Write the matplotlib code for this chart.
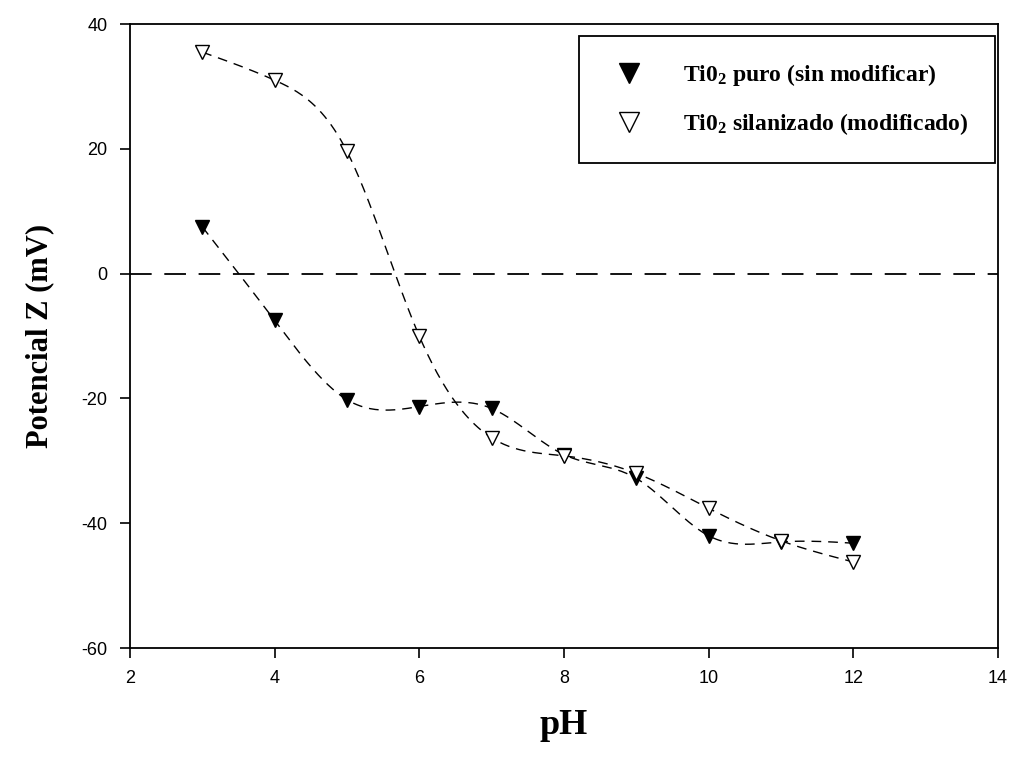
import matplotlib
matplotlib.use("Agg")
import matplotlib.pyplot as plt
import numpy as np
from matplotlib.lines import Line2D

plt.rcParams["axes.unicode_minus"] = False

# pH values and zeta potential (mV)
ph = [3, 4, 5, 6, 7, 8, 9, 10, 11, 12]
zeta_puro = [7.5, -7.5, -20.2, -21.3, -21.6, -29.0, -32.8, -42.0, -43.0, -43.2]
zeta_silanizado = [35.5, 31.0, 19.6, -10.0, -26.3, -29.2, -32.0, -37.6, -42.8, -46.2]

label_puro = "Ti0$_2$ puro (sin modificar)"
label_sil = "Ti0$_2$ silanizado (modificado)"


def natural_spline(x, y, n=400):
    """Natural cubic spline through the points, used only to draw the smooth curve."""
    x = np.asarray(x, float)
    y = np.asarray(y, float)
    k = len(x)
    h = np.diff(x)
    A = np.zeros((k, k))
    b = np.zeros(k)
    A[0, 0] = A[-1, -1] = 1
    for i in range(1, k - 1):
        A[i, i - 1] = h[i - 1]
        A[i, i] = 2 * (h[i - 1] + h[i])
        A[i, i + 1] = h[i]
        b[i] = 6 * ((y[i + 1] - y[i]) / h[i] - (y[i] - y[i - 1]) / h[i - 1])
    m = np.linalg.solve(A, b)
    xs = np.linspace(x[0], x[-1], n)
    idx = np.clip(np.searchsorted(x, xs) - 1, 0, k - 2)
    x0, x1 = x[idx], x[idx + 1]
    hh = x1 - x0
    t1 = x1 - xs
    t0 = xs - x0
    ys = (m[idx] * t1**3 + m[idx + 1] * t0**3) / (6 * hh) \
        + (y[idx] / hh - m[idx] * hh / 6) * t1 \
        + (y[idx + 1] / hh - m[idx + 1] * hh / 6) * t0
    return xs, ys


plt.rcParams["mathtext.fontset"] = "custom"
plt.rcParams["mathtext.rm"] = "Liberation Serif:bold"
plt.rcParams["mathtext.it"] = "Liberation Serif:bold"
plt.rcParams["mathtext.bf"] = "Liberation Serif:bold"

label_font = dict(family="Liberation Serif", fontweight="bold")

fig = plt.figure(figsize=(10.13, 7.63), dpi=100)
ax = fig.add_axes([0.1283, 0.1507, 0.8567, 0.8178])

# zero line
ax.axhline(0, color="black", linewidth=1.3, dashes=(12, 7))

# curves
for y in (zeta_puro, zeta_silanizado):
    xs, ys = natural_spline(ph, y)
    ax.plot(xs, ys, color="black", linewidth=1.0, dashes=(7, 5))

ax.plot(ph, zeta_puro, linestyle="none", marker="v", markersize=10,
        markerfacecolor="black", markeredgecolor="black")
ax.plot(ph, zeta_silanizado, linestyle="none", marker="v", markersize=10,
        markerfacecolor="white", markeredgecolor="black", markeredgewidth=1.0)

ax.set_xlim(2, 14)
ax.set_ylim(-60, 40)
ax.set_xticks(range(2, 15, 2))
ax.set_yticks(range(-60, 41, 20))
ax.tick_params(direction="out", length=7, width=1.2, labelsize=13, pad=9)
for lbl in ax.get_xticklabels() + ax.get_yticklabels():
    lbl.set_family("Liberation Sans")
for s in ax.spines.values():
    s.set_linewidth(1.3)

ax.set_xlabel("pH", fontsize=26, labelpad=16, **label_font)
ax.set_ylabel("Potencial Z (mV)", fontsize=22, labelpad=20, **label_font)

handles = [
    Line2D([], [], linestyle="none", marker="v", markersize=15,
           markerfacecolor="black", markeredgecolor="black"),
    Line2D([], [], linestyle="none", marker="v", markersize=15,
           markerfacecolor="white", markeredgecolor="black"),
]
leg = ax.legend(handles, [label_puro, label_sil], loc="upper right",
                bbox_to_anchor=(0.9965, 0.981), fancybox=False, framealpha=1,
                edgecolor="black", borderpad=1.1, handletextpad=1.3,
                labelspacing=1.0, borderaxespad=0,
                prop=dict(family="Liberation Serif", weight="bold", size=17))
leg.get_frame().set_linewidth(1.3)

fig.savefig("out.png", dpi=100)
